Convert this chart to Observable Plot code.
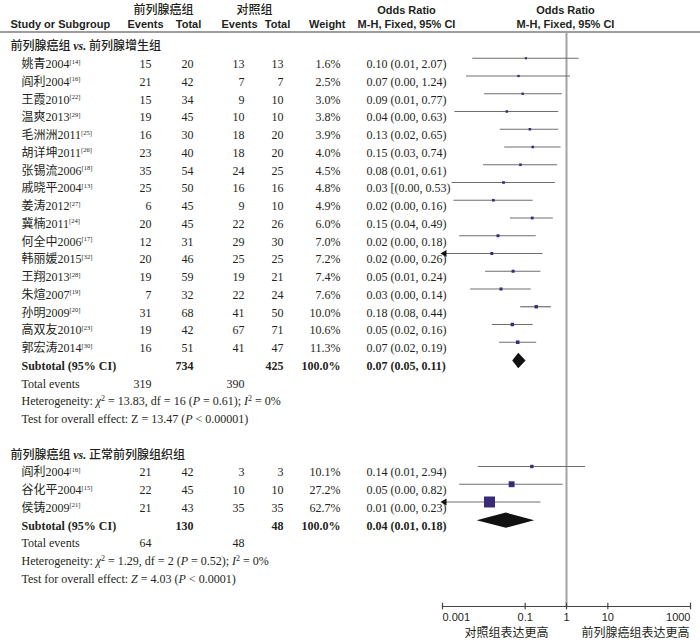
<!DOCTYPE html>
<html>
<head>
<meta charset="utf-8">
<script src="https://cdn.jsdelivr.net/npm/d3@7"></script>
<script src="https://cdn.jsdelivr.net/npm/@observablehq/plot@0.6"></script>
<style>
  html, body { margin: 0; padding: 0; background: #fff; }
  #chart svg { display: block; overflow: visible; }
</style>
</head>
<body>
<div id="chart"></div>
<script>
// ---------------- data ----------------
const groupTitles = ["前列腺癌组 *vs.* 前列腺增生组", "前列腺癌组 *vs.* 正常前列腺组织组"];
const studyGroup = [0,0,0,0,0,0,0,0,0,0,0,0,0,0,0,0,0, 1,1,1];
const studyNames = ["姚青2004","阎利2004","王霞2010","温爽2013","毛洲洲2011","胡详坤2011","张锡流2006","戚晓平2004","姜涛2012","冀楠2011","何全中2006","韩丽媛2015","王翔2013","朱煊2007","孙明2009","高双友2010","郭宏涛2014",
                    "阎利2004","谷化平2004","侯铸2009"];
const studyRefs = [14,16,22,29,25,26,18,13,27,24,17,32,28,19,20,23,30, 16,15,21];
const expEvents = [15,21,15,19,16,23,35,25,6,20,12,20,19,7,31,19,16, 21,22,21];
const expTotals = [20,42,34,45,30,40,54,50,45,45,31,46,59,32,68,42,51, 42,45,43];
const ctlEvents = [13,7,9,10,18,18,24,16,9,22,29,25,19,22,41,67,41, 3,10,35];
const ctlTotals = [13,7,10,10,20,20,25,16,10,26,30,25,21,24,50,71,47, 3,10,35];
const weights = [1.6,2.5,3.0,3.8,3.9,4.0,4.5,4.8,4.9,6.0,7.0,7.2,7.4,7.6,10.0,10.6,11.3, 10.1,27.2,62.7];
const orLabels = ["0.10 (0.01, 2.07)","0.07 (0.00, 1.24)","0.09 (0.01, 0.77)","0.04 (0.00, 0.63)","0.13 (0.02, 0.65)","0.15 (0.03, 0.74)","0.08 (0.01, 0.61)","0.03 [(0.00, 0.53)","0.02 (0.00, 0.16)","0.15 (0.04, 0.49)","0.02 (0.00, 0.18)","0.02 (0.00, 0.26)","0.05 (0.01, 0.24)","0.03 (0.00, 0.14)","0.18 (0.08, 0.44)","0.05 (0.02, 0.16)","0.07 (0.02, 0.19)",
                  "0.14 (0.01, 2.94)","0.05 (0.00, 0.82)","0.01 (0.00, 0.23)"];
// plotted odds ratios and CI ends as drawn in the picture
const orPoint = [0.104,0.069,0.087,0.036,0.13,0.153,0.077,0.030,0.017,0.148,0.022,0.0156,0.051,0.026,0.185,0.049,0.066, 0.145,0.047,0.0137];
const ciLower = [0.0054,0.0038,0.0104,0.0020,0.025,0.032,0.0098,0.0017,0.0019,0.044,0.0026,0.0008,0.011,0.0048,0.078,0.016,0.024, 0.0073,0.0026,0.0008];
const ciUpper = [2.03,1.25,0.79,0.65,0.65,0.74,0.61,0.54,0.156,0.48,0.185,0.27,0.24,0.14,0.43,0.156,0.19, 2.88,0.83,0.24];

const subtotalExpTotal = [734, 130];
const subtotalCtlTotal = [425, 48];
const subtotalWeight = ["100.0%", "100.0%"];
const subtotalLabels = ["0.07 (0.05, 0.11)", "0.04 (0.01, 0.18)"];
const subtotalOR = [0.070, 0.035];
const subtotalLower = [0.050, 0.0069];
const subtotalUpper = [0.105, 0.17];
const totalExpEvents = [319, 64];
const totalCtlEvents = [390, 48];
const heterogeneity = [
  "Heterogeneity: _χ_^2^ = 13.83, df = 16 (_P_ = 0.61); _I_^2^ = 0%",
  "Heterogeneity: _χ_^2^ = 1.29, df = 2 (_P_ = 0.52); _I_^2^ = 0%"
];
const overallEffect = [
  "Test for overall effect: Z = 13.47 (_P_ < 0.00001)",
  "Test for overall effect: _Z_ = 4.03 (_P_ < 0.0001)"
];
const headerTop = ["前列腺癌组", "对照组", "Odds Ratio", "Odds Ratio"];
const headerBottom = ["Study or Subgroup", "Events", "Total", "Events", "Total", "Weight", "M-H, Fixed, 95% CI", "M-H, Fixed, 95% CI"];
const xTicks = [0.001, 0.1, 1, 10, 1000];
const favourLabels = ["对照组表达更高", "前列腺癌组表达更高"];

// ---------------- build row table ----------------
const studies = [], subtotals = [], totals = [], notes = [], titles = [];
let r = 0;
groupTitles.forEach((title, g) => {
  titles.push({row: r++, text: title});
  studyGroup.forEach((sg, k) => {
    if (sg !== g) return;
    studies.push({
      row: r++, name: `${studyNames[k]}^[${studyRefs[k]}]^`,
      expEv: expEvents[k], expN: expTotals[k], ctlEv: ctlEvents[k], ctlN: ctlTotals[k],
      w: weights[k], wText: weights[k].toFixed(1) + "%", orText: orLabels[k],
      or: orPoint[k], lo: ciLower[k], hi: ciUpper[k]
    });
  });
  subtotals.push({row: r++, label: "Subtotal (95% CI)", expN: subtotalExpTotal[g], ctlN: subtotalCtlTotal[g],
    wText: subtotalWeight[g], orText: subtotalLabels[g], or: subtotalOR[g], lo: subtotalLower[g], hi: subtotalUpper[g], g});
  totals.push({row: r++, label: "Total events", expEv: totalExpEvents[g], ctlEv: totalCtlEvents[g]});
  notes.push({row: r++, text: heterogeneity[g]});
  notes.push({row: r++, text: overallEffect[g]});
  r++;
});

// diamonds for subtotals
const diamondHalf = 0.43;
const diamondPts = subtotals.flatMap(s => [
  {g: s.g, x: s.lo, y1: s.row, y2: s.row},
  {g: s.g, x: s.or, y1: s.row - diamondHalf, y2: s.row + diamondHalf},
  {g: s.g, x: s.hi, y1: s.row, y2: s.row}
]);

// ---------------- layout ----------------
const SERIF = "'Liberation Serif','Noto Sans CJK SC',serif";
const SANS = "'Liberation Sans','Noto Sans CJK SC',sans-serif";
const CJK = "'Noto Sans CJK SC','Liberation Sans',sans-serif";
const INK = "#231f20";
const xMin = xTicks[0], xMax = xTicks[xTicks.length - 1];
const axisRow = 31.55;
const headRuleRow = -0.82;
const markDy = -6;

const studyCols = [
  {key: "name", dx: 21, anchor: "start"},
  {key: "expEv", dx: 151, anchor: "end"},
  {key: "expN", dx: 193, anchor: "end"},
  {key: "ctlEv", dx: 244, anchor: "end"},
  {key: "ctlN", dx: 283, anchor: "end"},
  {key: "wText", dx: 340, anchor: "end"},
  {key: "orText", dx: 366, anchor: "start"}
];
const subCols = [
  {key: "label", dx: 21, anchor: "start"},
  {key: "expN", dx: 193, anchor: "end"},
  {key: "ctlN", dx: 283, anchor: "end"},
  {key: "wText", dx: 340, anchor: "end"},
  {key: "orText", dx: 366, anchor: "start"}
];
const totCols = [
  {key: "label", dx: 21, anchor: "start"},
  {key: "expEv", dx: 151, anchor: "end"},
  {key: "ctlEv", dx: 244, anchor: "end"}
];
const headTopLayout = [{dx: 163, anchor: "middle", cjk: true}, {dx: 254, anchor: "middle", cjk: true}, {dx: 406, anchor: "middle"}, {dx: 565, anchor: "middle"}];
const headBotLayout = [{dx: 10, anchor: "start"}, {dx: 145, anchor: "middle"}, {dx: 188, anchor: "middle"}, {dx: 239, anchor: "middle"}, {dx: 277, anchor: "middle"}, {dx: 345, anchor: "end"}, {dx: 406, anchor: "middle"}, {dx: 565, anchor: "middle"}];

const colMarks = (data, cols, extra) => cols.map(c => Plot.text(data, {
  y: "row", text: c.key, frameAnchor: "left", dx: c.dx, textAnchor: c.anchor,
  fontFamily: SERIF, fontSize: 12, fill: INK, ...extra
}));

const tickLabel = (ticks, anchor) => Plot.axisX({ticks, tickFormat: d => `${d}`, tickSize: 0, tickPadding: 7, label: null,
  textAnchor: anchor, fontSize: 11, fontFamily: SANS, fill: INK});

const chart = Plot.plot({
  width: 700, height: 642,
  marginLeft: 0, marginRight: 10, marginTop: 46, marginBottom: 36,
  style: {fontFamily: SANS, fontSize: "11px", color: INK, background: "#fff"},
  x: {type: "log", domain: [xMin, xMax], range: [442, 690]},
  y: {domain: [0, axisRow], reverse: true, axis: null},
  r: {type: "linear", domain: [0, 62.7], range: [1.1, 6.2]},
  marks: [
    // header rule and line of no effect
    Plot.ruleY([headRuleRow], {stroke: "#9d9d9d", strokeWidth: 2, insetRight: -10}),
    Plot.ruleX([1], {y1: headRuleRow, y2: axisRow, stroke: "#a3a3a3", strokeWidth: 2}),
    // header text
    ...headerTop.map((t, i) => Plot.text([t], {
      y: -2, text: d => d, frameAnchor: "left", dx: headTopLayout[i].dx, dy: -1, textAnchor: headTopLayout[i].anchor,
      fontFamily: headTopLayout[i].cjk ? CJK : SANS, fontWeight: headTopLayout[i].cjk ? 500 : "bold",
      fontSize: headTopLayout[i].cjk ? 12 : 11, fill: INK
    })),
    ...headerBottom.map((t, i) => Plot.text([t], {
      y: -1, text: d => d, frameAnchor: "left", dx: headBotLayout[i].dx, dy: -4.5, textAnchor: headBotLayout[i].anchor,
      fontFamily: SANS, fontWeight: "bold", fontSize: 11, fill: INK
    })),
    // group titles
    Plot.text(titles, {y: "row", text: "text", frameAnchor: "left", dx: 10, textAnchor: "start",
      fontFamily: CJK, fontWeight: 500, fontSize: 12, fill: INK}),
    // study rows
    ...colMarks(studies, studyCols, {}),
    ...colMarks(subtotals, subCols, {fontWeight: "bold"}),
    ...colMarks(totals, totCols, {}),
    Plot.text(notes, {y: "row", text: "text", frameAnchor: "left", dx: 21, textAnchor: "start",
      fontFamily: SERIF, fontSize: 12, fill: INK}),
    // confidence intervals
    Plot.ruleY(studies, {y: "row", x1: d => Math.max(d.lo, xMin), x2: "hi", stroke: "#6e6e6e", strokeWidth: 1.2, dy: markDy}),
    Plot.dot(studies.filter(d => d.lo < xMin), {x: () => xMin, y: "row", symbol: "triangle", rotate: -90,
      r: 2.6, fill: "#111", stroke: null, dx: 2, dy: markDy}),
    Plot.dot(studies, {x: "or", y: "row", r: "w", symbol: "square", fill: "#3b2a78", stroke: null, dy: markDy}),
    // pooled diamonds
    Plot.areaY(diamondPts, {x: "x", y1: "y1", y2: "y2", z: "g", fill: "#111", dy: markDy + 1}),
    // axis
    Plot.ruleY([axisRow], {x1: () => xMin, x2: () => xMax, stroke: "#444", strokeWidth: 1.2}),
    Plot.ruleX(xTicks, {x: d => d, y1: axisRow - 0.19, y2: axisRow + 0.19, stroke: "#444", strokeWidth: 1.2}),
    tickLabel(xTicks.slice(0, 1), "start"),
    tickLabel(xTicks.slice(1, -1), "middle"),
    tickLabel(xTicks.slice(-1), "end"),
    Plot.text([favourLabels[0]], {x: () => 1, text: d => d, frameAnchor: "bottom", dx: -18, dy: 30, textAnchor: "end",
      fontFamily: CJK, fontSize: 12, fill: INK}),
    Plot.text([favourLabels[1]], {x: () => 1, text: d => d, frameAnchor: "bottom", dx: 15, dy: 30, textAnchor: "start",
      fontFamily: CJK, fontSize: 12, fill: INK})
  ]
});

// rich text: _italic_, *bold italic serif*, ^superscript^
d3.select(chart).selectAll("text").each(function() {
  const s = this.textContent;
  if (!/[_^*]/.test(s)) return;
  const parts = s.split(/(_[^_]+_|\^[^^]+\^|\*[^*]+\*)/).filter(p => p);
  const el = d3.select(this);
  el.text(null);
  let shifted = false;
  for (const p of parts) {
    const t = el.append("tspan");
    if (shifted && !p.startsWith("^")) { t.attr("dy", 4.5); shifted = false; }
    if (p.startsWith("_")) {
      t.text(p.slice(1, -1)).attr("font-style", "italic").attr("font-family", SERIF);
    } else if (p.startsWith("*")) {
      t.text(p.slice(1, -1)).attr("font-style", "italic").attr("font-weight", "bold").attr("font-family", "'Liberation Serif',serif");
    } else if (p.startsWith("^")) {
      t.text(p.slice(1, -1)).attr("font-size", p.length > 4 ? 6.5 : 8).attr("dy", -4.5);
      shifted = true;
    } else {
      t.text(p);
    }
  }
});

document.getElementById("chart").appendChild(chart);
</script>
</body>
</html>
